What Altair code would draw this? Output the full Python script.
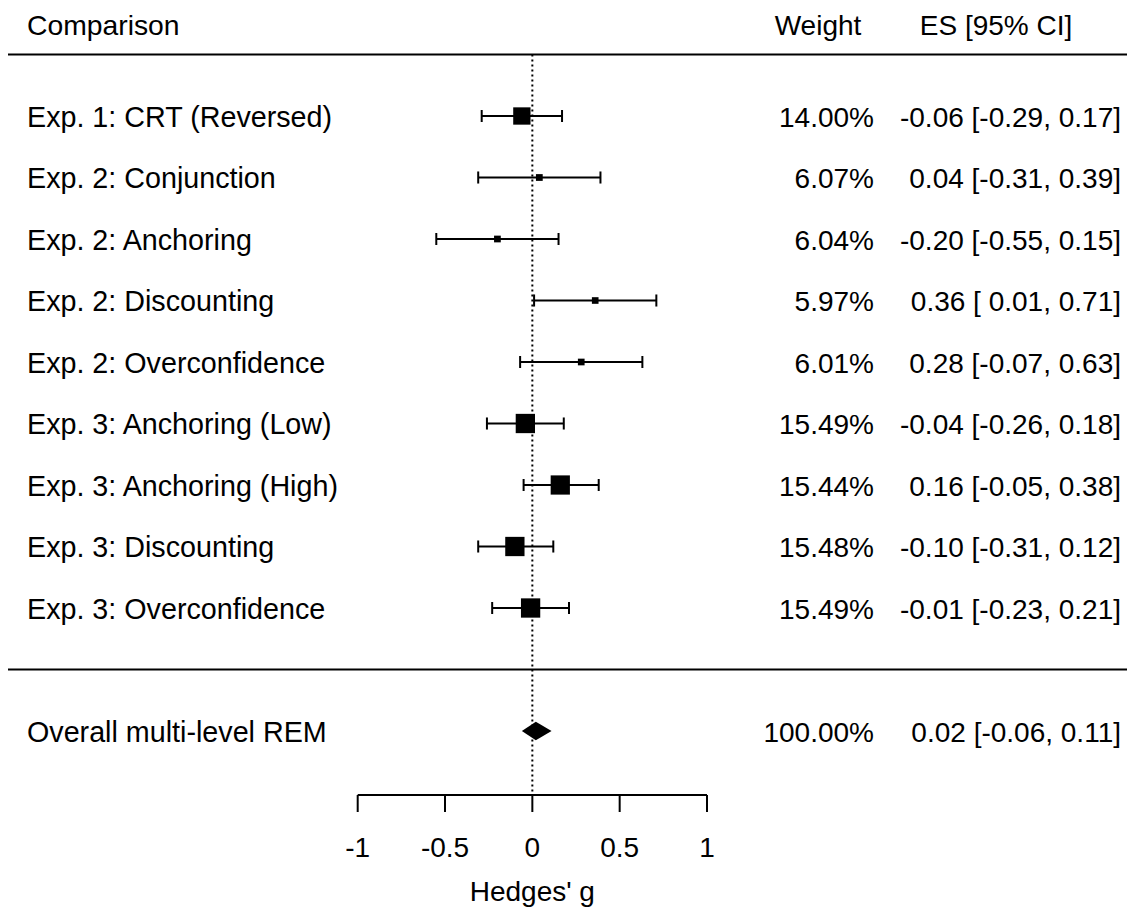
import altair as alt
import pandas as pd

# ---- data ----
names = [
    "Exp. 1: CRT (Reversed)",
    "Exp. 2: Conjunction",
    "Exp. 2: Anchoring",
    "Exp. 2: Discounting",
    "Exp. 2: Overconfidence",
    "Exp. 3: Anchoring (Low)",
    "Exp. 3: Anchoring (High)",
    "Exp. 3: Discounting",
    "Exp. 3: Overconfidence",
]
es = [-0.06, 0.04, -0.20, 0.36, 0.28, -0.04, 0.16, -0.10, -0.01]
lo = [-0.29, -0.31, -0.55, 0.01, -0.07, -0.26, -0.05, -0.31, -0.23]
hi = [0.17, 0.39, 0.15, 0.71, 0.63, 0.18, 0.38, 0.12, 0.21]
weights = [14.00, 6.07, 6.04, 5.97, 6.01, 15.49, 15.44, 15.48, 15.49]

overall_name = "Overall multi-level REM"
overall_es = 0.02
overall_lo = -0.06
overall_hi = 0.11
overall_weight = 100.00

headers = ["Comparison", "Weight", "ES [95% CI]"]
tick_values = [-1, -0.5, 0, 0.5, 1]
axis_title = "Hedges' g"

# ---- layout / style ----
FONT = "Liberation Sans"
FS = 28
FS_NAME = 28.7
W, H = 1119, 900
X = alt.Scale(domain=[-3.0023, 3.4049], nice=False, zero=False)
Y = alt.Scale(domain=[-0.7561, 13.878], nice=False, zero=False, reverse=True)
ROW_OVERALL = 11
AXIS_Y = 787

rows = list(range(1, len(names) + 1))
study = pd.DataFrame({
    "row": rows, "name": names, "es": es, "lo": lo, "hi": hi, "w": weights,
})
study["wlab"] = [f"{w:.2f}%" for w in weights]
study["eslab"] = [f"{e:.2f} [{l:5.2f}, {h:.2f}]" for e, l, h in zip(es, lo, hi)]
study["size"] = [(1.33 * w - 1.3) ** 2 for w in weights]

caps = pd.DataFrame({
    "row": rows + rows,
    "x": lo + hi,
})

overall = pd.DataFrame({
    "row": [ROW_OVERALL], "name": [overall_name],
    "wlab": [f"{overall_weight:.2f}%"],
    "eslab": [f"{overall_es:.2f} [{overall_lo:5.2f}, {overall_hi:.2f}]"],
})
diamond = pd.DataFrame({
    "x": [overall_lo, overall_es, overall_hi],
    "yt": [ROW_OVERALL, ROW_OVERALL - 0.15, ROW_OVERALL],
    "yb": [ROW_OVERALL, ROW_OVERALL + 0.15, ROW_OVERALL],
})

ticks = pd.DataFrame({"t": tick_values, "lab": [f"{t:g}" for t in tick_values]})
hlines = pd.DataFrame({"r": [0, 10]})
zero = pd.DataFrame({"v": [0]})
axis_span = pd.DataFrame({"a": [tick_values[0]], "b": [tick_values[-1]]})

txt = dict(font=FONT, color="black")

# header texts
hdr = pd.DataFrame({"h": headers, "px": [19, 810, 988], "al": ["left", "center", "center"],
                    "fs": [28.3, FS, FS]})
header_layers = [
    alt.Chart(hdr.iloc[[i]]).mark_text(align=hdr["al"][i], baseline="alphabetic",
                                       fontSize=float(hdr["fs"][i]), **txt)
    .encode(x=alt.value(float(hdr["px"][i])), y=alt.value(27), text="h:N")
    for i in range(len(hdr))
]

lines = alt.Chart(hlines).mark_rule(color="black", strokeWidth=2).encode(
    x=alt.value(0), x2=alt.value(W), y=alt.Y("r:Q", scale=Y, axis=None))

zline = alt.Chart(zero).mark_rule(color="black", strokeWidth=2, strokeDash=[2, 3]).encode(
    x=alt.X("v:Q", scale=X, axis=None), y=alt.value(46.5), y2=alt.value(AXIS_Y))

whisk = alt.Chart(study).mark_rule(color="black", strokeWidth=2).encode(
    x=alt.X("lo:Q", scale=X, axis=None), x2="hi:Q",
    y=alt.Y("row:Q", scale=Y, axis=None))

capm = alt.Chart(caps).transform_calculate(
    yt="datum.row - 0.098", yb="datum.row + 0.098"
).mark_rule(color="black", strokeWidth=2).encode(
    x=alt.X("x:Q", scale=X, axis=None),
    y=alt.Y("yt:Q", scale=Y, axis=None), y2="yb:Q")

squares = alt.Chart(study).mark_square(color="black", opacity=1, filled=True).encode(
    x=alt.X("es:Q", scale=X, axis=None),
    y=alt.Y("row:Q", scale=Y, axis=None),
    size=alt.Size("size:Q", scale=None, legend=None))

dia = alt.Chart(diamond).mark_area(color="black", opacity=1, orient="vertical").encode(
    x=alt.X("x:Q", scale=X, axis=None),
    y=alt.Y("yt:Q", scale=Y, axis=None), y2="yb:Q")

def row_text(df, field, px, align, fs):
    return alt.Chart(df).mark_text(align=align, baseline="alphabetic", dy=10.5,
                                   fontSize=fs, **txt).encode(
        x=alt.value(px), y=alt.Y("row:Q", scale=Y, axis=None), text=f"{field}:N")

texts = [
    row_text(study, "name", 19, "left", FS_NAME),
    row_text(study, "wlab", 866, "right", FS),
    row_text(study, "eslab", 1113, "right", FS),
    row_text(overall, "name", 19, "left", FS_NAME),
    row_text(overall, "wlab", 866, "right", FS),
    row_text(overall, "eslab", 1113, "right", FS),
]

axline = alt.Chart(axis_span).mark_rule(color="black", strokeWidth=2).encode(
    x=alt.X("a:Q", scale=X, axis=None), x2="b:Q", y=alt.value(AXIS_Y))
axticks = alt.Chart(ticks).mark_rule(color="black", strokeWidth=2).encode(
    x=alt.X("t:Q", scale=X, axis=None), y=alt.value(AXIS_Y), y2=alt.value(AXIS_Y + 17))
axlabels = alt.Chart(ticks).mark_text(align="center", baseline="alphabetic", fontSize=FS, **txt).encode(
    x=alt.X("t:Q", scale=X, axis=None), y=alt.value(849), text="lab:N")
axtitle = alt.Chart(zero).mark_text(align="center", baseline="alphabetic", fontSize=FS, **txt).encode(
    x=alt.X("v:Q", scale=X, axis=None), y=alt.value(893), text=alt.value(axis_title))

chart = alt.layer(
    lines, zline, whisk, capm, squares, dia, axline, axticks, axlabels, axtitle,
    *texts, *header_layers,
).properties(
    width=W, height=H, padding=0, autosize=alt.AutoSizeParams(type="none"),
    background="white",
).configure_view(stroke=None)

chart.save("out.html", embed_options={"renderer": "svg", "actions": False})
